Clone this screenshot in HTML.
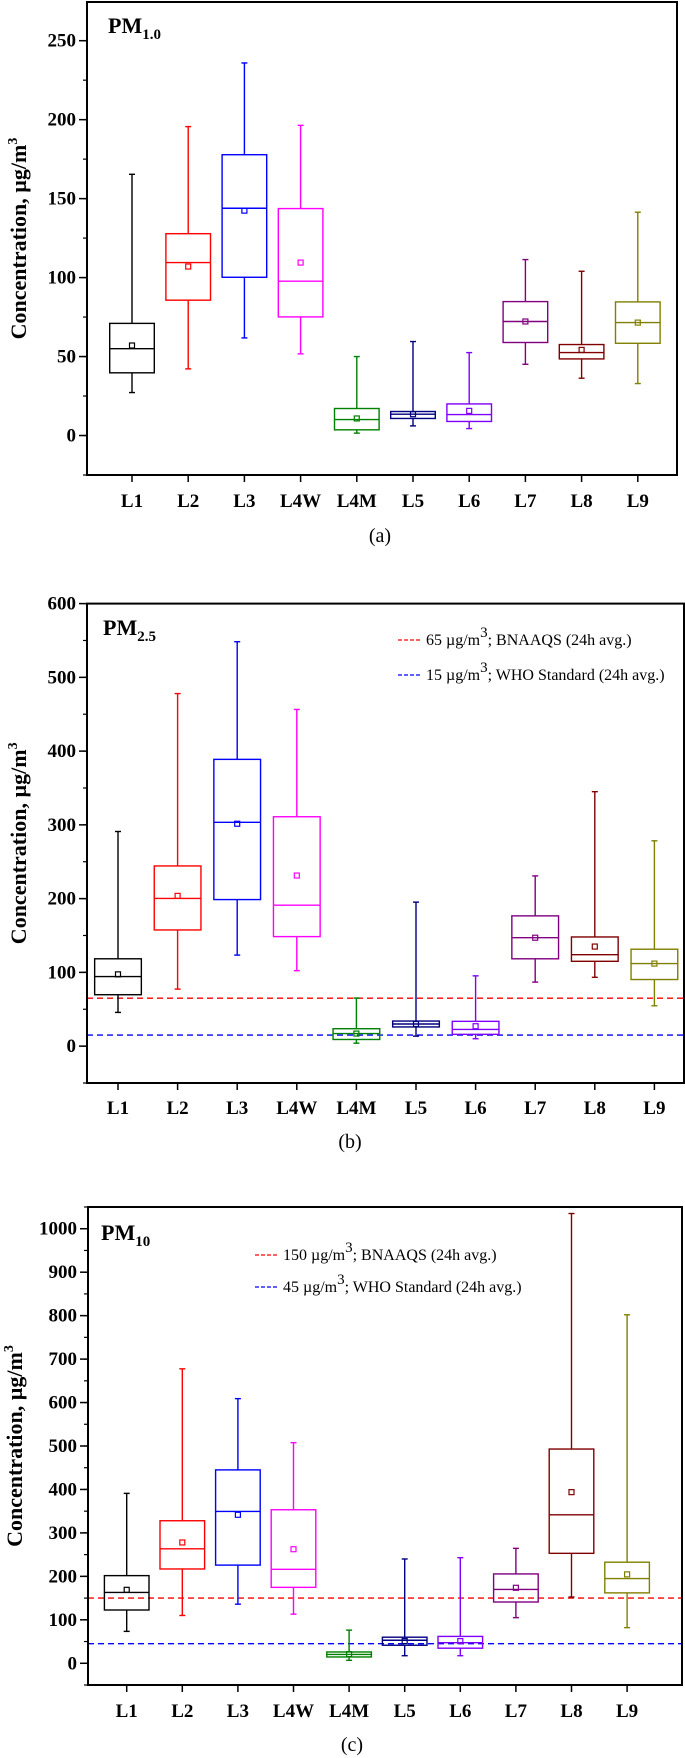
<!DOCTYPE html>
<html><head><meta charset="utf-8">
<style>
html,body{margin:0;padding:0;background:#fff;}
svg{display:block;}
text{font-family:"Liberation Serif",serif;}
.tick{font-weight:bold;font-size:19px;}
</style></head>
<body>
<svg id="chart" width="685" height="1758" viewBox="0 0 685 1758" xmlns="http://www.w3.org/2000/svg"></svg>
<script>
const categories = ["L1","L2","L3","L4W","L4M","L5","L6","L7","L8","L9"];
const colors = ["#000000","#ff0000","#0000ff","#ff00ff","#008000","#000080","#8000ff","#800080","#800000","#808000"];
// PM1.0: [min, q1, median, q3, max], mean
const pm1Min = [27.2,42.2,61.8,51.7,1.5,6.1,4.4,45.1,36.3,32.9];
const pm1Q1 = [39.7,85.7,100.2,75.1,3.6,10.8,8.9,58.9,48.5,58.4];
const pm1Med = [55,109.5,143.9,97.7,10.1,13.5,13.3,72.2,52.5,71.5];
const pm1Q3 = [71,127.8,177.8,143.7,17.1,15.2,20,84.8,57.6,84.6];
const pm1Max = [165.4,195.6,235.9,196.4,50,59.5,52.5,111.4,104,141.4];
const pm1Mean = [57,107,142.4,109.5,10.8,13.5,15.6,72.2,54.2,71.5];
const pm1Ticks = [0,50,100,150,200,250];
// PM2.5
const pm25Min = [45.7,77.3,123.4,102.3,4,13.5,10,86.8,93.3,54.7];
const pm25Q1 = [69.7,157.5,198.7,148.5,9,26,16,118.4,115,90.3];
const pm25Med = [94.3,200.2,303.5,191.1,17,30,22.6,147,124,111.9];
const pm25Q3 = [118.4,244.3,388.8,311,23.6,34,33.6,176.6,148,131.4];
const pm25Max = [291,478,548.3,456.5,65.2,195.2,95.3,230.8,345,278.4];
const pm25Mean = [97.3,203.7,301.5,231.3,17,30,27,147,135,111.9];
const pm25Ticks = [0,100,200,300,400,500,600];
const pm25Refs = [65,15];
// PM10
const pm10Min = [73.4,110,136,113,6.8,17.4,17.4,105,152.5,82];
const pm10Q1 = [122.6,217,225.9,174.7,14.5,41.5,34.7,141,253,162];
const pm10Med = [163,263.5,349.4,216.2,20.3,53,47.3,170,341.7,195];
const pm10Q3 = [201.7,328,445,353.3,26,60,61.8,205.6,493,232.6];
const pm10Max = [391,677.6,609,507.7,76.3,240,243,264.5,1035,802];
const pm10Mean = [169,278,341.7,262.5,21,51,51,173.7,393.8,204.6];
const pm10Ticks = [0,100,200,300,400,500,600,700,800,900,1000];
const pm10Refs = [150,45];

const NS="http://www.w3.org/2000/svg";
const svg=document.getElementById('chart');
function mk(tag,attrs,parent){const e=document.createElementNS(NS,tag);for(const k in attrs)e.setAttribute(k,attrs[k]);(parent||svg).appendChild(e);return e;}

function panel(cfg){
  const g=mk('g',{});
  
  
  const x0=cfg.left,x1=cfg.right,yt=cfg.top,yb=cfg.bottom;
  const yS=v=>yb-(v-cfg.vmin)/(cfg.vmax-cfg.vmin)*(yb-yt);
  const xS=i=>cfg.cx0+i*cfg.dx;
  // minor ticks
  for(let v=cfg.vmin;v<=cfg.vmax+1e-9;v+=cfg.minor){
    const t=mk('line',{x1:x0-4,x2:x0,y1:yS(v),y2:yS(v),stroke:'#000','stroke-width':1.2},g);
    
    
  }
  cfg.ticks.forEach(v=>{
    const t=mk('line',{x1:x0-8,x2:x0,y1:yS(v),y2:yS(v),stroke:'#000','stroke-width':1.5},g);
    
    
    const l=mk('text',{x:x0-11,y:yS(v)+6,'text-anchor':'end',class:'tick'},g);
    l.textContent=v;
    
    
  });
  // ref lines
  (cfg.refs||[]).forEach((v,k)=>{
    const r=mk('line',{x1:x0,x2:x1,y1:yS(v),y2:yS(v),stroke:k==0?'#ff0000':'#0000ff','stroke-width':1.4,'stroke-dasharray':'6,4'},g);
    
    
  });
  // boxes
  categories.forEach((c,i)=>{
    const cx=xS(i),col=colors[i],hw=cfg.bw/2;
    const bg=mk('g',{stroke:col,fill:'none','stroke-width':1.4},g);
    
    
    mk('line',{x1:cx,x2:cx,y1:yS(cfg.max[i]),y2:yS(cfg.q3[i])},bg);
    mk('line',{x1:cx,x2:cx,y1:yS(cfg.q1[i]),y2:yS(cfg.min[i])},bg);
    mk('line',{x1:cx-3,x2:cx+3,y1:yS(cfg.max[i]),y2:yS(cfg.max[i])},bg);
    mk('line',{x1:cx-3,x2:cx+3,y1:yS(cfg.min[i]),y2:yS(cfg.min[i])},bg);
    mk('rect',{x:cx-hw,y:yS(cfg.q3[i]),width:cfg.bw,height:Math.max(0.5,yS(cfg.q1[i])-yS(cfg.q3[i]))},bg);
    mk('line',{x1:cx-hw,x2:cx+hw,y1:yS(cfg.med[i]),y2:yS(cfg.med[i])},bg);
    mk('rect',{x:cx-2.5,y:yS(cfg.mean[i])-2.5,width:5,height:5,'stroke-width':1.2},bg);
    const xt=mk('line',{x1:cx,x2:cx,y1:yb,y2:yb+7,stroke:'#000','stroke-width':1.5},g);
    
    
    const xl=mk('text',{x:cx,y:cfg.xlabY,'text-anchor':'middle',class:'tick'},g);
    xl.textContent=c;
    
    
  });
  const fr=mk('rect',{x:x0,y:yt,width:x1-x0,height:yb-yt,fill:'none',stroke:'#000','stroke-width':2},g);
  
  
  // y title
  const yc=(yt+yb)/2-cfg.titleShift;
  const tt=mk('text',{x:0,y:0,transform:`translate(${cfg.titleX},${yc}) rotate(-90)`,'text-anchor':'middle','font-weight':'bold','font-size':'22px'},g);
  tt.innerHTML='Concentration, µg/m<tspan dy="-9" font-size="14px">3</tspan>';
  
  
  // pm label
  const pl=mk('text',{x:cfg.pmX,y:cfg.pmY,'font-weight':'bold','font-size':'22px'},g);
  pl.innerHTML='PM<tspan dy="6" font-size="15px">'+cfg.sub+'</tspan>';
  
  
  // legend
  (cfg.legend||[]).forEach((s,k)=>{
    const ly=cfg.legY+k*cfg.legDy;
    const ll=mk('line',{x1:cfg.legX,x2:cfg.legX+22,y1:ly,y2:ly,stroke:k==0?'#ff0000':'#0000ff','stroke-width':1.2,'stroke-dasharray':'4,2'},g);
    
    
    const lt=mk('text',{x:cfg.legX+28,y:ly+5,'font-size':'16px'},g);
    lt.innerHTML=s[0]+' µg/m<tspan dy="-8" font-size="15px">3</tspan><tspan dy="8">; '+s[1]+'</tspan>';
    
    
  });
  const cap=mk('text',{x:cfg.capX,y:cfg.capY,'text-anchor':'middle','font-size':'20px'},g);
  cap.textContent=cfg.cap;
  
  
}

panel({name:'panel-pm1',left:87,right:677,top:2,bottom:475,vmin:-25,vmax:274.5,minor:25,ticks:pm1Ticks,
  cx0:132,dx:56.2,bw:44.6,min:pm1Min,q1:pm1Q1,med:pm1Med,q3:pm1Q3,max:pm1Max,mean:pm1Mean,
  xlabY:507,titleX:26,titleShift:0,pmX:108,pmY:33,sub:'1.0',cap:'(a)',capX:380,capY:542});
panel({name:'panel-pm25',left:87,right:684,top:603.6,bottom:1083,vmin:-50,vmax:600,minor:50,ticks:pm25Ticks,refs:pm25Refs,
  cx0:118,dx:59.6,bw:46.7,min:pm25Min,q1:pm25Q1,med:pm25Med,q3:pm25Q3,max:pm25Max,mean:pm25Mean,
  xlabY:1114,titleX:26,titleShift:0,pmX:103,pmY:635,sub:'2.5',cap:'(b)',capX:350,capY:1148,
  legend:[['65','BNAAQS (24h avg.)'],['15','WHO Standard (24h avg.)']],legX:398,legY:640,legDy:35});
panel({name:'panel-pm10',left:88,right:682,top:1207,bottom:1685,vmin:-50,vmax:1050,minor:50,ticks:pm10Ticks,refs:pm10Refs,
  cx0:126.7,dx:55.6,bw:44.6,min:pm10Min,q1:pm10Q1,med:pm10Med,q3:pm10Q3,max:pm10Max,mean:pm10Mean,
  xlabY:1717,titleX:22,titleShift:0,pmX:101,pmY:1240,sub:'10',cap:'(c)',capX:352,capY:1751,
  legend:[['150','BNAAQS (24h avg.)'],['45','WHO Standard (24h avg.)']],legX:255,legY:1255,legDy:32});
</script>
</body></html>
